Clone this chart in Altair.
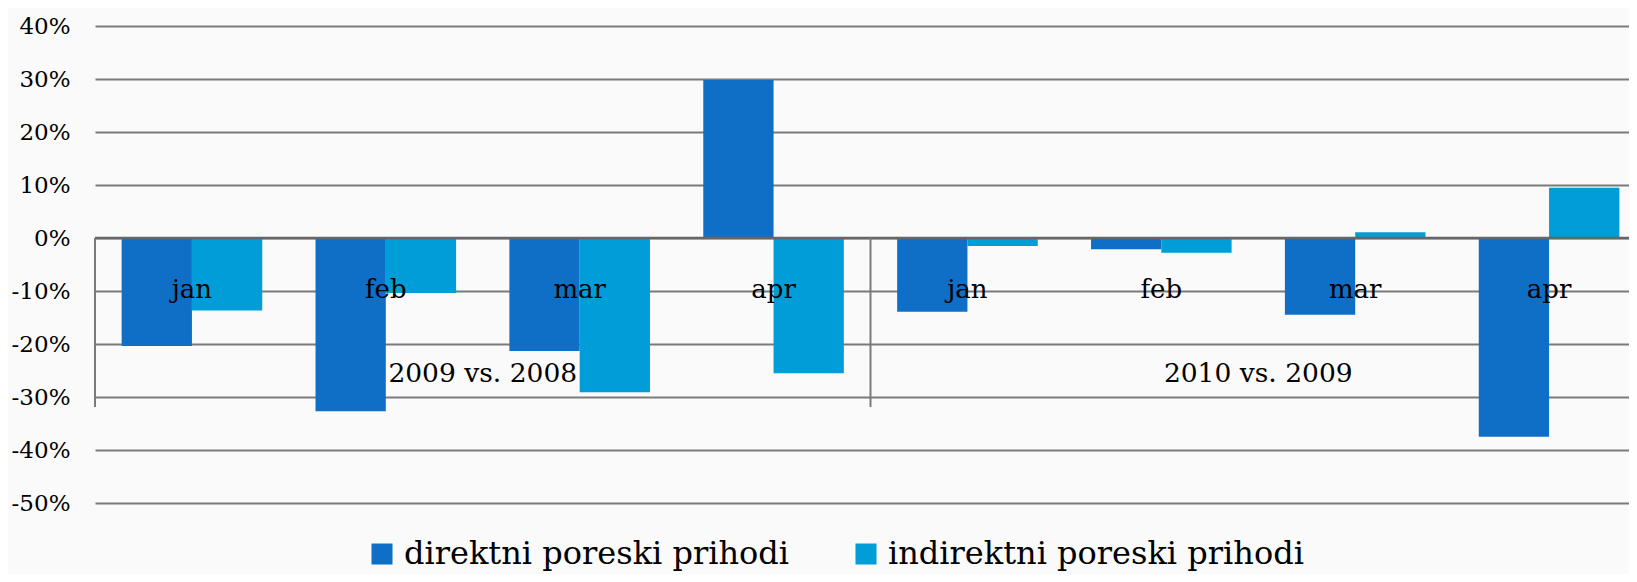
import altair as alt
import pandas as pd

months = ["jan", "feb", "mar", "apr"]
groups = ["2009 vs. 2008", "2010 vs. 2009"]
series = ["direktni poreski prihodi", "indirektni poreski prihodi"]
direktni = [-0.204, -0.327, -0.213, 0.298, -0.139, -0.021, -0.145, -0.375]
indirektni = [-0.137, -0.104, -0.291, -0.255, -0.015, -0.028, 0.011, 0.095]
y_ticks = [-0.5, -0.4, -0.3, -0.2, -0.1, 0.0, 0.1, 0.2, 0.3, 0.4]
colors = ["#0F6FC6", "#009DD9"]

keys = [f"{g}-{m}" for g in range(len(groups)) for m in months]
month_of_key = [m for g in range(len(groups)) for m in months]

rows = []
for i, k in enumerate(keys):
    rows.append({"key": k, "series": series[0], "value": direktni[i]})
    rows.append({"key": k, "series": series[1], "value": indirektni[i]})
df = pd.DataFrame(rows)

labels_df = pd.DataFrame({"key": keys, "month": month_of_key})
groups_df = pd.DataFrame({"key": [f"{g}-feb" for g in range(len(groups))], "label": groups})
sep_df = pd.DataFrame({"key": [f"{g}-jan" for g in range(len(groups))]})

FONT = "DejaVu Serif"
xscale = alt.Scale(domain=keys, paddingInner=0, paddingOuter=0)
yscale = alt.Scale(domain=[-0.5, 0.4], nice=False, zero=False)

bars = alt.Chart(df).mark_bar().encode(
    x=alt.X("key:N", scale=xscale, axis=None, sort=keys),
    xOffset=alt.XOffset("series:N", sort=series,
                        scale=alt.Scale(paddingInner=0, paddingOuter=0.379)),
    y=alt.Y("value:Q", scale=yscale, title=None,
            axis=alt.Axis(values=y_ticks, labelExpr="toString(round(datum.value*100)) + '%'",
                          grid=True, gridColor="#7a7a7a", gridWidth=2,
                          domain=False, ticks=False, labelPadding=25,
                          labelFont=FONT, labelFontSize=23, labelColor="#000000")),
    color=alt.Color("series:N", sort=series, scale=alt.Scale(domain=series, range=colors),
                    legend=alt.Legend(orient="none", legendX=271, legendY=512,
                                      direction="horizontal", title=None,
                                      symbolType="square", symbolSize=441,
                                      symbolStrokeWidth=0, symbolOpacity=1,
                                      labelFont=FONT, labelFontSize=32, labelColor="#000000",
                                      labelOffset=6, columnPadding=60, padding=0,
                                      labelLimit=600)),
)

zero = alt.Chart(pd.DataFrame({"v": [0.0]})).mark_rule(color="#666666", strokeWidth=2.5).encode(
    y=alt.Y("v:Q", scale=yscale)
)

seps = alt.Chart(sep_df).mark_rule(color="#7a7a7a", strokeWidth=2).encode(
    x=alt.X("key:N", scale=xscale, sort=keys, bandPosition=0),
    y=alt.datum(0.0),
    y2=alt.datum(-0.319),
)

month_text = alt.Chart(labels_df).mark_text(
    font=FONT, fontSize=26, color="#000000", baseline="alphabetic", dy=7
).encode(
    x=alt.X("key:N", scale=xscale, sort=keys),
    y=alt.datum(-0.1),
    text="month:N",
)

group_text = alt.Chart(groups_df).mark_text(
    font=FONT, fontSize=26.5, color="#000000", baseline="alphabetic", dy=-15
).encode(
    x=alt.X("key:N", scale=xscale, sort=keys, bandPosition=1),
    y=alt.datum(-0.3),
    text="label:N",
)

# the plot runs slightly past the right edge of the page, as in the reference;
# the negative right padding keeps the page itself inside the 1637x582 window
chart = alt.layer(bars, zero, seps, month_text, group_text).properties(
    width=1551, height=477,
    autosize=alt.AutoSizeParams(type="none"),
    padding={"left": 87, "top": 18, "right": -17, "bottom": 71},
    background="#fafafa",
).configure_view(stroke=None)

chart.save("out.html", embed_options={"renderer": "svg", "actions": False})
